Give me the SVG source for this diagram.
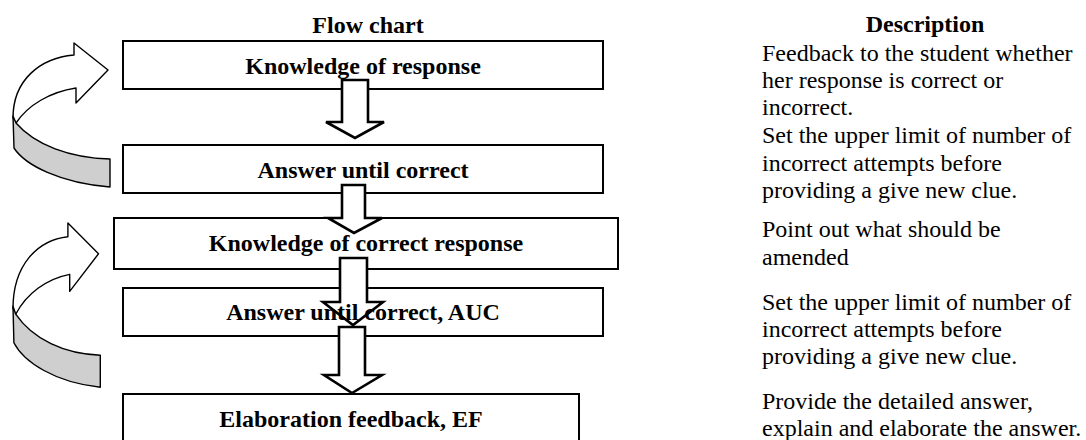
<svg xmlns="http://www.w3.org/2000/svg" width="1086" height="440" viewBox="0 0 1086 440">
<defs>
<style>
.box{fill:none;stroke:#000;stroke-width:2}
.blk{fill:#fff;stroke:#000;stroke-width:2.6;stroke-linejoin:miter}
.cw{fill:#fff;stroke:#000;stroke-width:1.4;stroke-linejoin:round}
.cg{fill:#cfcfcf;stroke:#000;stroke-width:1.4;stroke-linejoin:round}
.lbl{font-family:"Liberation Serif","Times New Roman",serif;font-size:24px;font-weight:bold;fill:#000;text-anchor:middle}
.hd{font-family:"Liberation Serif","Times New Roman",serif;font-size:24px;font-weight:bold;fill:#000;text-anchor:middle}
.desc{font-family:"Liberation Serif","Times New Roman",serif;font-size:24px;fill:#000}
</style>
<g id="curved-arrow">
<path class="cw" d="M74,55 C40,58 13,80 13,118 L16,123 C28,105 50,92 76,88 L76,103 L108,70 L74,43 Z" vector-effect="non-scaling-stroke"/>
<path class="cg" d="M13,116 L14,148 C25,165 60,183 110,187 L110,159 C70,158 35,145 16,123 Z" vector-effect="non-scaling-stroke"/>
</g>
</defs>
<rect width="1086" height="440" fill="#fff"/>
<text class="hd" x="368" y="33">Flow chart</text>
<text class="hd" x="925" y="32">Description</text>

<g id="connectors">
<use href="#curved-arrow"/>
<use href="#curved-arrow" transform="translate(1.3,174) scale(0.9,1.14)"/>
<polygon class="blk" points="342,80 368,80 368,122 384,122 355,138 326,122 342,122"/>
<polygon class="blk" points="342,185 365,185 365,218 382,218 354,233 328,218 342,218"/>
<polygon class="blk" points="340,258 367,258 367,302 383,302 353,325 323,302 340,302"/>
<polygon class="blk" points="339,327 365,327 365,375 382,375 352,393 324,375 339,375"/>
</g>

<g id="n1">
<rect class="box" x="123" y="41" width="480" height="48" stroke-dasharray="763 26 2000"/>
<text class="lbl" x="363" y="74">Knowledge of response</text>
</g>
<g id="n2">
<rect class="box" x="123" y="145" width="480" height="48" stroke-dasharray="766 23 2000"/>
<text class="lbl" x="363" y="178">Answer until correct</text>
</g>
<g id="n3">
<rect class="box" x="114" y="218" width="504" height="51" stroke-dasharray="228 23 555 27 2000"/>
<text class="lbl" x="366" y="251">Knowledge of correct response</text>
</g>
<g id="n4">
<rect class="box" x="123" y="288" width="480" height="48" stroke-dasharray="217 27 522 26 2000"/>
<text class="lbl" x="363" y="320">Answer until correct, AUC</text>
</g>
<g id="n5">
<rect class="box" x="123" y="394" width="456" height="60"/>
<text class="lbl" x="351" y="427">Elaboration feedback, EF</text>
</g>

<g id="descriptions" class="desc">
<text x="762" y="61">Feedback to the student whether</text>
<text x="762" y="88">her response is correct or</text>
<text x="762" y="115">incorrect.</text>
<text x="762" y="143">Set the upper limit of number of</text>
<text x="762" y="171">incorrect attempts before</text>
<text x="762" y="198">providing a give new clue.</text>
<text x="762" y="237">Point out what should be</text>
<text x="762" y="265">amended</text>
<text x="762" y="310">Set the upper limit of number of</text>
<text x="762" y="337">incorrect attempts before</text>
<text x="762" y="364">providing a give new clue.</text>
<text x="762" y="409">Provide the detailed answer,</text>
<text x="762" y="436">explain and elaborate the answer.</text>
</g>
</svg>
